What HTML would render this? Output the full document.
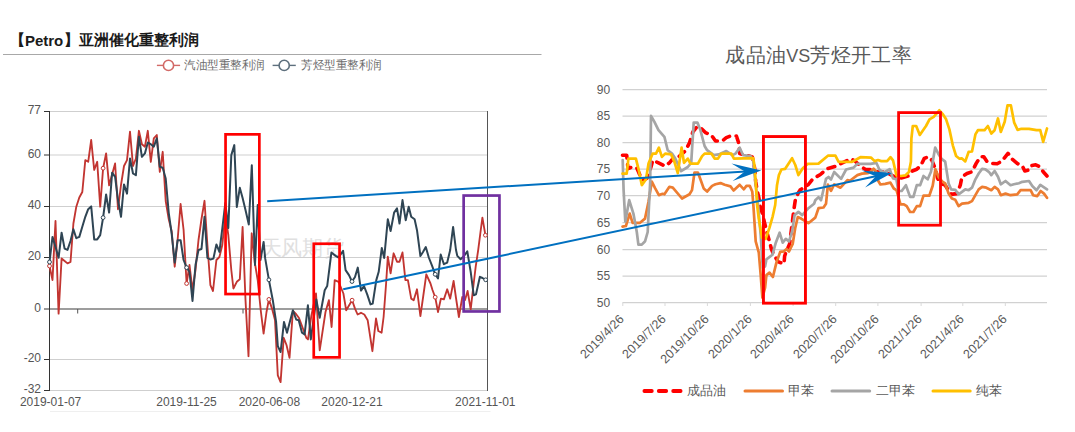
<!DOCTYPE html>
<html lang="zh"><head><meta charset="utf-8"><title>chart</title>
<style>
html,body{margin:0;padding:0;background:#fff;}
body{width:1075px;height:432px;position:relative;overflow:hidden;font-family:"Liberation Sans",sans-serif;}
svg{position:absolute;left:0;top:0;z-index:1;}
.t{position:absolute;white-space:nowrap;line-height:1;font-family:"Liberation Sans",sans-serif;z-index:2;}
.title span{position:absolute;display:block;line-height:1;}
.vs{font-size:18px;letter-spacing:0;}
.b1{font-size:15px;}
.b3{font-size:15px;}
.b2{font-size:15px;}
.wm{z-index:0;font-size:21px;letter-spacing:-.3px;color:#e0e0e0;}
.yl{font-size:12px;color:#555;text-align:right;width:40px;}
.xl{font-size:12px;color:#555;text-align:center;width:80px;}
.ry{font-size:12px;color:#595959;text-align:right;width:30px;}
.rx{font-size:12.5px;color:#595959;text-align:right;width:70px;transform-origin:100% 50%;transform:rotate(-45deg);}
.lg{font-size:12px;color:#6b6b6b;transform:scaleX(.962);transform-origin:0 50%;}
.rlg{font-size:13px;letter-spacing:.2px;color:#595959;}
</style></head><body>
<svg width="1075" height="432" viewBox="0 0 1075 432">
<line x1="3" y1="54.5" x2="541.5" y2="54.5" stroke="#a8a8a8" stroke-width="1"/>
<line x1="50" y1="411.5" x2="490.5" y2="411.5" stroke="#efefef" stroke-width="1"/>
<line x1="49.5" y1="111.5" x2="487.5" y2="111.5" stroke="#cfcfcf" stroke-width="1"/>
<line x1="49.5" y1="155" x2="487.5" y2="155" stroke="#cfcfcf" stroke-width="1"/>
<line x1="49.5" y1="206.5" x2="487.5" y2="206.5" stroke="#cfcfcf" stroke-width="1"/>
<line x1="49.5" y1="257.5" x2="487.5" y2="257.5" stroke="#cfcfcf" stroke-width="1"/>
<line x1="49.5" y1="359.5" x2="487.5" y2="359.5" stroke="#cfcfcf" stroke-width="1"/>
<line x1="49.5" y1="390.5" x2="487.5" y2="390.5" stroke="#cfcfcf" stroke-width="1"/>
<line x1="49.5" y1="309" x2="487.5" y2="309" stroke="#7d7d7d" stroke-width="1.4"/>
<line x1="77.7" y1="309" x2="77.7" y2="313.5" stroke="#555" stroke-width="1"/>
<line x1="243" y1="309" x2="243" y2="313.5" stroke="#555" stroke-width="1"/>
<line x1="49.5" y1="111" x2="49.5" y2="391" stroke="#333" stroke-width="1"/>
<line x1="487.5" y1="111" x2="487.5" y2="391" stroke="#555" stroke-width="1"/>
<line x1="44" y1="111.5" x2="49.5" y2="111.5" stroke="#333" stroke-width="1"/>
<line x1="44" y1="155" x2="49.5" y2="155" stroke="#333" stroke-width="1"/>
<line x1="44" y1="206.5" x2="49.5" y2="206.5" stroke="#333" stroke-width="1"/>
<line x1="44" y1="257.5" x2="49.5" y2="257.5" stroke="#333" stroke-width="1"/>
<line x1="44" y1="309" x2="49.5" y2="309" stroke="#333" stroke-width="1"/>
<line x1="44" y1="359.5" x2="49.5" y2="359.5" stroke="#333" stroke-width="1"/>
<line x1="44" y1="390.5" x2="49.5" y2="390.5" stroke="#333" stroke-width="1"/>
<line x1="156.9" y1="65.4" x2="180.1" y2="65.4" stroke="#d26a67" stroke-width="1.4"/><circle cx="168.5" cy="65.4" r="5.1" fill="#fff" stroke="#d26a67" stroke-width="1.6"/>
<line x1="272.59999999999997" y1="65.4" x2="295.8" y2="65.4" stroke="#5d6f7d" stroke-width="1.4"/><circle cx="284.2" cy="65.4" r="5.1" fill="#fff" stroke="#5d6f7d" stroke-width="1.6"/>
<polyline points="49.5,266.0 52.5,280.0 55.5,221.0 58.6,313.6 61.6,258.5 64.6,261.0 67.5,263.4 70.5,262.0 73.4,223.5 76.3,206.7 79.3,197.5 82.3,192.0 85.3,160.1 88.2,161.8 91.2,140.0 94.2,169.9 97.2,161.8 100.2,206.7 103.1,168.2 106.1,153.4 109.1,185.3 112.1,174.4 115.1,163.5 118.0,209.2 121.0,185.0 124.0,166.0 127.0,160.1 130.0,131.7 133.0,166.0 135.9,158.5 138.9,130.8 141.9,144.2 144.9,146.7 147.8,130.8 150.8,161.8 153.8,138.4 156.8,135.0 159.8,171.9 162.7,151.8 165.7,201.0 168.7,219.0 171.7,231.4 174.7,266.7 177.6,240.0 180.6,204.0 183.6,230.0 186.6,283.5 189.5,265.0 192.5,290.0 195.5,270.0 198.5,240.0 201.5,219.0 204.5,200.8 207.4,245.0 210.4,285.2 213.0,291.0 216.4,260.0 219.4,257.0 222.3,245.0 225.3,215.0 228.3,235.0 231.3,270.0 233.4,288.5 236.8,281.8 239.8,279.3 242.6,227.0 245.5,300.0 248.5,356.2 251.7,233.3 254.7,262.0 257.7,280.0 260.7,310.0 263.6,333.6 266.5,312.0 268.9,299.4 272.0,308.6 275.0,320.0 277.8,375.4 280.6,382.1 283.7,337.8 286.5,345.0 289.5,357.9 292.9,311.0 296.0,314.0 299.0,318.0 302.0,326.0 306.3,337.8 308.0,339.4 311.3,316.0 316.0,293.5 319.7,350.3 325.5,312.0 328.9,300.2 331.6,327.0 334.7,280.1 338.6,281.8 343.4,293.5 346.2,310.3 352.1,300.2 355.0,308.6 357.6,314.5 361.0,312.8 364.3,314.5 367.7,320.3 372.4,351.2 376.0,318.5 378.3,331.0 381.6,332.7 383.6,317.0 386.1,283.5 387.8,256.7 390.6,273.4 393.6,253.3 397.0,261.7 399.5,261.7 402.5,252.5 405.4,280.1 407.9,280.1 411.2,298.6 413.7,300.2 417.0,289.3 420.4,316.1 423.4,295.0 426.3,274.3 430.5,283.5 432.5,290.0 435.2,297.2 438.0,312.0 440.9,298.6 443.9,299.4 447.2,289.3 450.2,298.6 453.6,281.0 456.0,298.0 458.9,317.0 462.3,297.0 465.0,300.0 467.6,291.0 470.7,309.4 473.5,285.0 475.7,266.7 478.2,250.0 480.5,232.0 482.4,217.7 485.4,235.2" fill="none" stroke="#c23531" stroke-width="1.85" stroke-linejoin="round" stroke-linecap="round"/>
<polyline points="49.5,262.0 52.5,236.9 55.5,246.9 58.6,257.8 61.6,232.7 64.6,248.6 67.5,249.9 70.5,241.0 73.4,229.3 76.3,238.2 79.3,236.9 82.3,226.8 85.3,216.8 88.2,209.2 91.2,206.4 94.2,239.4 97.2,239.4 100.2,235.2 103.1,217.6 106.1,194.5 109.1,212.6 112.1,172.7 115.1,176.9 118.0,200.0 121.0,216.8 124.0,184.4 127.0,193.6 130.0,158.5 133.0,173.5 135.9,175.2 138.9,136.7 141.9,156.8 144.9,153.4 147.8,142.6 150.8,144.2 153.8,146.7 156.8,138.4 159.8,166.8 162.7,167.7 165.7,178.6 168.7,212.6 171.7,234.0 174.7,262.6 177.6,240.2 180.6,240.2 183.6,260.0 186.6,267.6 189.5,271.8 192.5,301.0 195.5,265.0 198.5,250.0 201.5,249.0 204.5,216.8 207.4,257.8 210.4,259.5 213.4,258.6 216.4,244.4 219.4,251.9 222.3,228.5 225.3,203.0 228.3,228.0 231.3,155.1 234.3,145.1 236.8,207.0 239.8,187.8 242.6,198.0 245.5,210.0 248.8,224.5 251.8,165.2 255.0,265.0 257.7,205.0 260.5,260.0 263.6,241.9 265.2,258.4 268.9,279.8 272.8,300.2 276.1,322.0 277.8,346.1 280.6,352.0 284.0,321.9 287.0,332.7 292.9,310.3 296.2,319.5 298.7,320.2 302.0,332.7 304.6,334.4 307.9,305.3 310.8,339.4 316.3,299.4 319.7,317.8 324.7,290.2 327.2,286.0 331.4,252.5 335.6,255.9 338.6,257.5 343.1,250.8 345.6,270.1 349.0,275.1 352.0,281.5 355.0,277.0 357.8,267.6 361.0,290.6 364.0,286.0 367.2,294.4 370.5,304.4 372.7,303.6 376.3,280.1 378.7,271.8 381.8,248.0 384.2,258.0 387.8,219.3 390.6,231.0 394.1,212.6 397.0,208.4 399.5,223.5 402.5,200.1 405.7,220.2 408.7,206.8 411.2,216.8 414.6,219.3 417.0,230.2 420.4,256.0 423.0,252.0 425.8,247.0 428.8,257.5 432.1,265.9 435.2,274.3 438.0,278.5 440.7,254.5 443.9,264.2 447.2,262.6 450.2,250.0 453.1,226.9 456.0,250.0 457.3,255.9 460.6,259.2 464.0,256.0 467.3,251.4 470.7,271.8 473.7,295.2 476.0,294.4 479.9,276.8 482.5,278.0 485.7,279.8" fill="none" stroke="#2f4554" stroke-width="2" stroke-linejoin="round" stroke-linecap="round"/>
<circle cx="49.5" cy="266" r="1.9" fill="#fff" stroke="#c23531" stroke-width="1"/>
<circle cx="103.1" cy="168.2" r="1.9" fill="#fff" stroke="#c23531" stroke-width="1"/>
<circle cx="186.6" cy="283.5" r="1.9" fill="#fff" stroke="#c23531" stroke-width="1"/>
<circle cx="268.9" cy="299.4" r="1.9" fill="#fff" stroke="#c23531" stroke-width="1"/>
<circle cx="352.1" cy="300.2" r="1.9" fill="#fff" stroke="#c23531" stroke-width="1"/>
<circle cx="435.2" cy="297.2" r="1.9" fill="#fff" stroke="#c23531" stroke-width="1"/>
<circle cx="485.4" cy="235.2" r="1.9" fill="#fff" stroke="#c23531" stroke-width="1"/>
<circle cx="49.5" cy="262" r="1.9" fill="#fff" stroke="#2f4554" stroke-width="1"/>
<circle cx="103.1" cy="217.6" r="1.9" fill="#fff" stroke="#2f4554" stroke-width="1"/>
<circle cx="186.6" cy="267.6" r="1.9" fill="#fff" stroke="#2f4554" stroke-width="1"/>
<circle cx="268.9" cy="279.8" r="1.9" fill="#fff" stroke="#2f4554" stroke-width="1"/>
<circle cx="352" cy="281.5" r="1.9" fill="#fff" stroke="#2f4554" stroke-width="1"/>
<circle cx="435.2" cy="274.3" r="1.9" fill="#fff" stroke="#2f4554" stroke-width="1"/>
<circle cx="485.7" cy="279.8" r="1.9" fill="#fff" stroke="#2f4554" stroke-width="1"/>
<line x1="622.5" y1="89.5" x2="1047" y2="89.5" stroke="#d1d1d1" stroke-width="1.25"/>
<line x1="622.5" y1="116" x2="1047" y2="116" stroke="#d1d1d1" stroke-width="1.25"/>
<line x1="622.5" y1="142.5" x2="1047" y2="142.5" stroke="#d1d1d1" stroke-width="1.25"/>
<line x1="622.5" y1="169" x2="1047" y2="169" stroke="#d1d1d1" stroke-width="1.25"/>
<line x1="622.5" y1="195.5" x2="1047" y2="195.5" stroke="#d1d1d1" stroke-width="1.25"/>
<line x1="622.5" y1="222.5" x2="1047" y2="222.5" stroke="#d1d1d1" stroke-width="1.25"/>
<line x1="622.5" y1="249.5" x2="1047" y2="249.5" stroke="#d1d1d1" stroke-width="1.25"/>
<line x1="622.5" y1="276" x2="1047" y2="276" stroke="#d1d1d1" stroke-width="1.25"/>
<line x1="622.5" y1="302.5" x2="1047" y2="302.5" stroke="#d1d1d1" stroke-width="1.25"/>
<line x1="622.8" y1="302.5" x2="622.8" y2="306" stroke="#d9d9d9" stroke-width="1"/>
<line x1="665" y1="302.5" x2="665" y2="306" stroke="#d9d9d9" stroke-width="1"/>
<line x1="707.4" y1="302.5" x2="707.4" y2="306" stroke="#d9d9d9" stroke-width="1"/>
<line x1="750.4" y1="302.5" x2="750.4" y2="306" stroke="#d9d9d9" stroke-width="1"/>
<line x1="793.1" y1="302.5" x2="793.1" y2="306" stroke="#d9d9d9" stroke-width="1"/>
<line x1="835.7" y1="302.5" x2="835.7" y2="306" stroke="#d9d9d9" stroke-width="1"/>
<line x1="877.9" y1="302.5" x2="877.9" y2="306" stroke="#d9d9d9" stroke-width="1"/>
<line x1="921.1" y1="302.5" x2="921.1" y2="306" stroke="#d9d9d9" stroke-width="1"/>
<line x1="962.8" y1="302.5" x2="962.8" y2="306" stroke="#d9d9d9" stroke-width="1"/>
<line x1="1005.3" y1="302.5" x2="1005.3" y2="306" stroke="#d9d9d9" stroke-width="1"/>
<polyline points="622.5,155.2 626.7,155.2 628.0,168.6 632.0,167.0 636.8,168.0 640.0,175.3 643.0,180.0 646.8,178.4 651.0,167.0 652.7,160.3 658.5,162.8 665.2,166.1 669.4,162.8 673.6,157.7 678.6,156.9 685.3,151.0 689.5,142.7 692.9,131.8 697.0,126.8 700.4,127.6 705.4,132.6 711.3,135.1 715.5,141.0 722.2,141.0 726.3,137.7 730.5,136.0 736.4,136.0 738.9,143.5 739.7,153.6 745.0,155.0 752.3,156.9 755.0,170.0 755.7,181.7 757.6,192.7 759.0,198.5 760.1,206.3 762.4,213.6 764.5,222.6 767.0,232.7 769.5,241.4 771.4,249.0 773.9,255.0 778.3,261.9 784.0,263.8 784.6,256.3 785.8,252.5 789.6,244.0 791.5,228.9 794.0,208.8 795.3,200.2 798.4,192.7 800.0,190.1 808.4,184.5 812.8,178.9 820.4,174.5 826.7,168.8 835.4,166.3 840.5,163.8 850.5,158.8 855.0,161.0 860.6,166.3 865.6,169.5 872.0,169.5 873.7,171.7 885.5,171.7 893.0,176.0 899.2,178.5 908.4,176.0 912.3,171.0 916.8,169.3 921.0,165.1 924.3,158.4 928.5,156.7 931.8,160.1 935.2,168.4 937.7,178.5 941.0,183.5 945.2,185.2 951.1,194.4 957.0,193.6 960.3,185.2 962.0,176.8 967.0,173.5 972.0,171.8 976.2,163.4 980.4,156.7 983.8,156.7 987.1,161.7 992.1,163.4 997.2,163.8 1002.2,160.9 1008.0,153.4 1012.2,159.2 1017.2,163.4 1022.3,165.9 1024.8,171.0 1028.1,170.1 1030.6,165.9 1035.7,164.8 1039.8,166.8 1043.2,171.8 1047.0,176.0" fill="none" stroke="#FF0000" stroke-width="3.6" stroke-linejoin="round" stroke-linecap="round" stroke-dasharray="7 6.6"/>
<polyline points="622.5,226.6 625.9,226.0 629.7,213.6 632.6,222.8 640.0,222.8 645.0,218.6 648.5,201.8 651.8,181.7 655.2,188.4 658.9,195.1 662.7,193.8 664.4,194.3 669.4,186.8 672.8,187.6 682.0,198.5 689.5,194.3 692.0,190.1 694.5,172.5 697.9,172.5 700.4,179.2 703.7,188.4 707.1,191.5 712.1,185.9 715.5,184.3 720.5,183.1 724.7,184.8 730.5,186.4 733.6,190.5 739.7,184.8 743.9,189.3 746.4,185.9 749.8,185.9 752.3,191.8 753.5,206.9 755.7,241.4 758.8,252.7 760.7,275.1 762.4,297.7 765.1,287.7 766.4,275.1 769.5,272.6 772.9,277.0 776.4,262.6 780.2,251.9 784.0,251.3 786.5,249.0 789.0,251.5 792.7,244.0 795.3,227.6 797.8,217.0 801.5,218.8 808.4,223.2 815.3,217.6 818.5,208.2 823.5,207.5 826.0,203.8 827.9,184.5 831.0,190.8 834.2,184.5 840.5,187.7 847.4,180.1 849.9,180.8 857.4,175.1 862.0,173.6 868.0,173.2 871.0,171.5 873.6,168.7 876.0,171.5 878.3,181.0 880.4,184.5 885.2,183.9 890.4,182.6 893.8,188.5 896.5,190.1 900.5,204.3 903.9,204.3 906.7,206.1 910.1,212.0 913.4,212.0 916.8,206.1 920.1,206.1 923.5,195.7 929.3,195.7 932.7,185.8 935.4,169.2 938.5,177.0 942.4,181.7 945.2,183.5 948.6,193.6 951.9,198.6 955.3,199.8 958.6,206.1 962.0,203.6 968.7,202.8 972.0,201.1 975.4,195.2 978.7,189.4 982.1,186.9 986.3,187.7 991.3,190.2 994.6,186.9 998.0,189.4 1000.8,195.2 1005.5,193.6 1010.5,195.2 1017.2,194.4 1020.6,190.2 1030.6,190.2 1033.1,195.2 1037.3,196.1 1040.7,191.0 1044.0,193.6 1047.0,197.8" fill="none" stroke="#ED7D31" stroke-width="2.7" stroke-linejoin="round" stroke-linecap="round"/>
<polyline points="622.7,160.0 623.6,190.0 625.3,221.5 629.2,200.2 633.4,213.6 636.8,232.0 638.4,244.6 641.8,244.6 645.1,241.2 647.7,232.0 648.5,215.2 650.2,181.7 651.0,115.9 654.3,121.7 658.5,130.1 664.4,136.8 667.7,150.2 672.0,153.6 675.3,158.6 681.1,171.1 687.8,167.0 691.2,162.8 693.7,122.6 697.4,122.6 700.4,130.1 704.6,146.0 707.1,150.2 713.8,155.2 718.8,154.4 726.3,151.0 732.2,155.2 735.6,153.6 739.7,147.7 743.1,155.2 750.6,156.1 753.1,160.3 754.8,177.0 758.2,206.3 760.7,235.2 762.8,268.0 765.1,266.3 766.4,259.4 772.5,254.7 775.8,242.7 779.6,232.7 782.7,242.7 785.8,238.9 789.0,241.4 792.1,231.4 794.6,215.1 798.4,211.9 802.2,215.1 807.8,208.8 814.1,203.8 815.3,200.2 818.5,197.1 821.0,200.2 826.0,178.9 828.5,177.0 831.0,179.5 834.2,172.0 841.1,178.9 846.1,169.5 853.6,167.6 857.4,163.8 870.6,163.8 876.3,162.8 879.6,170.0 883.8,172.5 889.7,169.2 893.0,178.4 896.4,179.2 898.3,191.0 901.7,191.0 905.9,185.2 910.1,196.9 913.4,196.9 916.8,185.2 920.1,185.2 923.5,176.0 927.7,179.3 931.0,171.8 935.2,147.5 938.5,154.2 941.9,159.2 945.2,161.7 948.6,183.5 951.1,189.4 955.3,189.9 958.6,194.4 962.0,191.9 965.3,189.4 968.7,190.2 972.0,187.7 975.4,179.3 978.7,173.5 982.1,168.9 985.4,169.3 988.8,171.8 991.3,175.1 994.6,171.0 998.0,176.8 1000.8,184.3 1005.5,181.0 1010.5,185.2 1013.9,184.3 1018.9,183.2 1022.3,181.8 1029.0,181.0 1032.3,186.0 1036.5,190.2 1040.3,184.9 1047.0,189.4" fill="none" stroke="#A5A5A5" stroke-width="2.7" stroke-linejoin="round" stroke-linecap="round"/>
<polyline points="622.5,173.7 626.7,173.7 628.4,158.6 635.9,158.6 638.4,168.6 641.8,185.1 646.0,179.2 648.5,163.6 652.7,153.6 656.0,153.6 658.9,147.7 661.9,156.9 665.2,153.6 671.1,154.4 674.4,161.9 677.8,173.0 681.6,147.7 684.0,162.8 687.8,158.6 690.4,163.6 697.9,163.6 702.1,156.1 704.6,153.6 711.3,153.6 714.6,158.6 718.0,158.6 721.3,153.6 731.4,153.6 733.9,158.6 753.2,158.2 754.4,165.0 755.7,181.4 757.0,204.0 758.8,218.8 762.0,237.7 765.7,238.9 769.5,227.6 772.7,216.3 775.2,205.0 777.0,185.2 778.9,175.1 781.4,169.5 785.2,168.8 792.1,158.2 795.3,165.0 798.4,175.1 802.8,168.2 807.8,163.8 818.5,163.6 827.9,155.7 835.4,155.7 838.6,161.9 849.3,161.9 852.0,161.9 860.4,157.2 871.2,157.7 874.6,161.1 878.0,160.0 881.3,161.1 887.1,161.1 890.5,157.2 893.0,160.3 896.4,175.3 900.9,176.0 905.6,175.3 908.9,172.0 910.9,161.7 911.4,138.5 912.8,126.0 916.2,126.0 919.8,134.9 926.0,126.0 929.5,119.3 933.7,116.8 939.3,110.3 943.0,114.5 946.1,119.3 949.4,129.4 952.8,145.3 956.1,156.0 959.5,158.7 962.0,158.4 965.3,161.4 968.7,151.8 972.0,151.5 975.4,134.4 977.9,130.2 984.6,130.2 987.9,126.0 991.3,133.5 994.6,130.2 998.0,118.5 1000.8,131.9 1004.7,121.8 1007.5,105.4 1010.9,105.4 1014.2,122.7 1017.6,129.9 1021.4,128.8 1029.0,128.8 1036.5,130.2 1040.3,130.2 1043.2,141.9 1047.0,128.5" fill="none" stroke="#FFC000" stroke-width="2.7" stroke-linejoin="round" stroke-linecap="round"/>
<line x1="644.4" y1="391" x2="680.6" y2="391" stroke="#FF0000" stroke-width="3.8" stroke-linecap="round" stroke-dasharray="7.4 7"/>
<line x1="745" y1="391" x2="782.5" y2="391" stroke="#ED7D31" stroke-width="3" stroke-linecap="round"/>
<line x1="832" y1="391" x2="869.7" y2="391" stroke="#A5A5A5" stroke-width="3" stroke-linecap="round"/>
<line x1="933" y1="391" x2="970.2" y2="391" stroke="#FFC000" stroke-width="3" stroke-linecap="round"/>
<rect x="225.55" y="134.35" width="33.80" height="159.70" fill="none" stroke="#FF0000" stroke-width="2.7"/>
<rect x="313.75" y="243.75" width="25.80" height="113.60" fill="none" stroke="#FF0000" stroke-width="2.7"/>
<rect x="463.65" y="195.55" width="35.80" height="115.90" fill="none" stroke="#7030A0" stroke-width="2.7"/>
<rect x="763.45" y="136.55" width="42.00" height="166.60" fill="none" stroke="#FF0000" stroke-width="2.9"/>
<rect x="898.60" y="112.60" width="41.90" height="112.60" fill="none" stroke="#FF0000" stroke-width="2.8"/>
<line x1="267.2" y1="201.2" x2="745.8" y2="171.4" stroke="#0070C0" stroke-width="2"/><polygon points="761.3,170.4 731.5,163.5 744.8,171.4 732.6,180.9" fill="#0070C0"/>
<line x1="343.2" y1="289.3" x2="876.8" y2="176.1" stroke="#0070C0" stroke-width="2"/><polygon points="892.0,172.9 861.5,170.5 875.9,176.3 865.1,187.5" fill="#0070C0"/>
</svg>
<div class="t title" style="left:0;top:0;font-weight:bold;color:#1a1a1a;"><span class="b1" style="left:10px;top:31.5px;">【</span><span class="b2" style="left:24.9px;top:32.6px;">Petro</span><span class="b1" style="left:63.5px;top:31.5px;">】</span><span class="b3" style="left:78.6px;top:31.5px;">亚洲催化重整利润</span></div>
<div class="t lg" style="left:184.1px;top:58.6px;">汽油型重整利润</div>
<div class="t lg" style="left:300.5px;top:58.6px;">芳烃型重整利润</div>
<div class="t wm" style="left:260.6px;top:237.2px;">天风期货</div>
<div class="t yl" style="left:1px;top:104.3px;">77</div>
<div class="t yl" style="left:1px;top:147.8px;">60</div>
<div class="t yl" style="left:1px;top:199.3px;">40</div>
<div class="t yl" style="left:1px;top:250.3px;">20</div>
<div class="t yl" style="left:1px;top:301.8px;">0</div>
<div class="t yl" style="left:1px;top:352.3px;">-20</div>
<div class="t yl" style="left:1px;top:383.3px;">-32</div>
<div class="t xl" style="left:10.600000000000001px;top:396.4px;">2019-01-07</div>
<div class="t xl" style="left:146.5px;top:396.4px;">2019-11-25</div>
<div class="t xl" style="left:229.39999999999998px;top:396.4px;">2020-06-08</div>
<div class="t xl" style="left:312px;top:396.4px;">2020-12-21</div>
<div class="t xl" style="left:445.3px;top:396.4px;">2021-11-01</div>
<div class="t " style="left:725.4px;top:44.6px;font-size:20px;letter-spacing:.3px;color:#595959;">成品油<span class="vs">VS</span>芳烃开工率</div>
<div class="t ry" style="left:580.2px;top:83.8px;">90</div>
<div class="t ry" style="left:580.2px;top:110.3px;">85</div>
<div class="t ry" style="left:580.2px;top:136.8px;">80</div>
<div class="t ry" style="left:580.2px;top:163.3px;">75</div>
<div class="t ry" style="left:580.2px;top:189.8px;">70</div>
<div class="t ry" style="left:580.2px;top:216.8px;">65</div>
<div class="t ry" style="left:580.2px;top:243.8px;">60</div>
<div class="t ry" style="left:580.2px;top:270.3px;">55</div>
<div class="t ry" style="left:580.2px;top:296.8px;">50</div>
<div class="t rx" style="left:552.0px;top:311.3px;">2019/4/26</div>
<div class="t rx" style="left:594.2px;top:311.3px;">2019/7/26</div>
<div class="t rx" style="left:636.6px;top:311.3px;">2019/10/26</div>
<div class="t rx" style="left:679.6px;top:311.3px;">2020/1/26</div>
<div class="t rx" style="left:722.3000000000001px;top:311.3px;">2020/4/26</div>
<div class="t rx" style="left:764.9000000000001px;top:311.3px;">2020/7/26</div>
<div class="t rx" style="left:807.1px;top:311.3px;">2020/10/26</div>
<div class="t rx" style="left:850.3000000000001px;top:311.3px;">2021/1/26</div>
<div class="t rx" style="left:892.0px;top:311.3px;">2021/4/26</div>
<div class="t rx" style="left:934.5px;top:311.3px;">2021/7/26</div>
<div class="t rlg" style="left:686.5px;top:383.7px;">成品油</div>
<div class="t rlg" style="left:788px;top:383.7px;">甲苯</div>
<div class="t rlg" style="left:875.8px;top:383.7px;">二甲苯</div>
<div class="t rlg" style="left:976.3px;top:383.7px;">纯苯</div>
</body></html>
